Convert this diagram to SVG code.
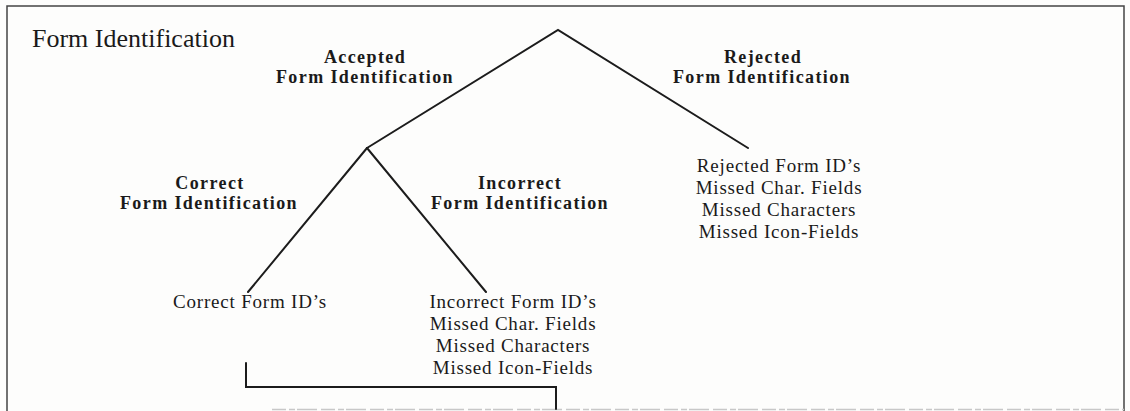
<svg xmlns="http://www.w3.org/2000/svg" width="1130" height="411" viewBox="0 0 1130 411">
  <style>
    .frame { fill: none; stroke: #444; stroke-width: 1.5; }
    .edge { fill: none; stroke: #1c1c1c; stroke-width: 2; stroke-linecap: round; stroke-linejoin: miter; }
    .title { font-family: "Liberation Serif", "Times New Roman", serif; font-size: 26px; fill: #1a1a1a; }
    .branch { font-family: "Liberation Serif", "Times New Roman", serif; font-size: 18px; font-weight: bold; letter-spacing: 1.4px; fill: #1a1a1a; text-anchor: middle; }
    .leaf { font-family: "Liberation Serif", "Times New Roman", serif; font-size: 19px; letter-spacing: 0.8px; fill: #1a1a1a; text-anchor: middle; }
  </style>

  <rect x="0" y="0" width="1130" height="411" fill="#fdfdfc"/>

  <!-- page frame -->
  <g id="frame">
    <polyline class="frame" points="7,411 7,6 1124,6 1124,411"/>
    <line x1="272" y1="409.5" x2="1124" y2="409.5" stroke="#c8c8c8" stroke-width="1.5" stroke-dasharray="14 3 6 2 20 4"/>
  </g>

  <g id="title">
    <text class="title" x="32" y="47">Form Identification</text>
  </g>

  <!-- tree branches -->
  <g id="connectors">
    <polyline class="edge" points="367,148 558,30 748,148"/>
    <line class="edge" x1="367" y1="148" x2="248" y2="292"/>
    <line class="edge" x1="367" y1="148" x2="486" y2="292"/>
    <polyline class="edge" points="246,363 246,387 556,387 556,409"/>
  </g>

  <g id="accepted">
    <text class="branch" x="365" y="63">Accepted</text>
    <text class="branch" x="365" y="83">Form Identification</text>
  </g>

  <g id="rejected">
    <text class="branch" x="763" y="63">Rejected</text>
    <text class="branch" x="762" y="83">Form Identification</text>
  </g>

  <g id="correct">
    <text class="branch" x="210" y="189">Correct</text>
    <text class="branch" x="209" y="209">Form Identification</text>
  </g>

  <g id="incorrect">
    <text class="branch" x="520" y="189">Incorrect</text>
    <text class="branch" x="520" y="209">Form Identification</text>
  </g>

  <g id="rejected-results">
    <text class="leaf" x="779" y="172">Rejected Form ID’s</text>
    <text class="leaf" x="779" y="194">Missed Char. Fields</text>
    <text class="leaf" x="779" y="216">Missed Characters</text>
    <text class="leaf" x="779" y="238">Missed Icon-Fields</text>
  </g>

  <g id="correct-results">
    <text class="leaf" x="250" y="308">Correct Form ID’s</text>
  </g>

  <g id="incorrect-results">
    <text class="leaf" x="513" y="308">Incorrect Form ID’s</text>
    <text class="leaf" x="513" y="330">Missed Char. Fields</text>
    <text class="leaf" x="513" y="352">Missed Characters</text>
    <text class="leaf" x="513" y="374">Missed Icon-Fields</text>
  </g>
</svg>
